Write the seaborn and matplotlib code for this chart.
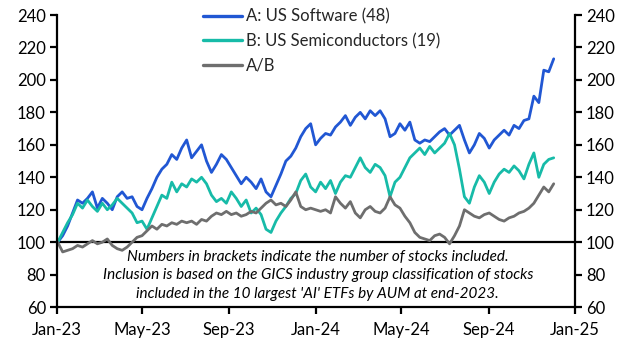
import matplotlib
matplotlib.use("Agg")
import matplotlib.pyplot as plt
import matplotlib.dates as mdates
import seaborn as sns
import pandas as pd

# weekly observations, Jan-2023 to Dec-2024
dates = pd.date_range("2023-01-02", periods=101, freq="7D")

software = [100, 104, 110, 118, 126, 124, 127, 131, 121, 127,
            124, 120, 128, 131, 127, 128, 122, 120, 127, 133,
            140, 145, 148, 154, 151, 158, 163, 152, 156, 160,
            150, 143, 148, 154, 151, 146, 141, 136, 140, 137,
            133, 139, 131, 128, 135, 142, 150, 153, 158, 165,
            170, 173, 160, 164, 167, 166, 171, 174, 178, 172,
            177, 180, 176, 181, 178, 181, 176, 165, 167, 173,
            169, 174, 163, 161, 163, 162, 165, 168, 170, 166,
            169, 172, 163, 155, 160, 167, 164, 158, 163, 166,
            169, 166, 172, 170, 175, 176, 190, 186, 206, 205,
            213]

semis = [100, 106, 112, 117, 124, 121, 126, 122, 119, 124,
         120, 123, 127, 124, 121, 118, 112, 113, 108, 115,
         122, 129, 127, 137, 131, 136, 134, 139, 137, 140,
         136, 129, 125, 127, 124, 131, 127, 122, 126, 118,
         121, 117, 108, 106, 113, 118, 122, 127, 130, 138,
         142, 134, 131, 137, 133, 138, 130, 137, 141, 140,
         146, 152, 146, 143, 148, 146, 141, 128, 137, 140,
         146, 152, 155, 158, 154, 159, 155, 158, 161, 167,
         160, 145, 128, 124, 134, 141, 137, 130, 137, 142,
         145, 143, 147, 144, 139, 148, 155, 140, 148, 151,
         152]

ratio = [100, 94, 95, 96, 98, 97, 99, 101, 99, 100,
         102, 98, 96, 95, 97, 100, 103, 104, 107, 110,
         108, 111, 110, 112, 111, 113, 112, 113, 111, 114,
         113, 116, 118, 117, 119, 117, 118, 116, 117, 119,
         118, 121, 124, 126, 123, 124, 122, 126, 131, 122,
         120, 121, 120, 119, 120, 118, 128, 124, 121, 125,
         118, 115, 120, 122, 119, 118, 121, 128, 123, 121,
         116, 112, 106, 103, 102, 101, 104, 105, 103, 99,
         104, 110, 120, 118, 116, 115, 117, 118, 116, 114,
         113, 115, 116, 118, 119, 121, 124, 129, 134, 131,
         136]

labels = ["A: US Software (48)", "B: US Semiconductors (19)", "A/B"]
colors = ["#2157D3", "#17BBA8", "#6E6E6E"]
yticks = [60, 80, 100, 120, 140, 160, 180, 200, 220, 240]
note = ("Numbers in brackets indicate the number of stocks included.\n"
        "Inclusion is based on the GICS industry group classification of stocks\n"
        "included in the 10 largest 'AI' ETFs by AUM at end-2023.")

df = pd.concat([
    pd.DataFrame({"date": dates, "value": software, "series": labels[0]}),
    pd.DataFrame({"date": dates, "value": semis, "series": labels[1]}),
    pd.DataFrame({"date": dates, "value": ratio, "series": labels[2]}),
])

sns.set_style("white")
plt.rcParams["font.family"] = ["Lato", "DejaVu Sans"]

fig = plt.figure(figsize=(6.29, 3.53), dpi=100)
ax = fig.add_axes([0.0906, 0.130, 0.8235, 0.8275])

sns.lineplot(data=df, x="date", y="value", hue="series", palette=colors,
             hue_order=labels, linewidth=2.0, ax=ax)

ax.axhline(100, color="black", lw=1.6, zorder=1)

ax.set_xlim(pd.Timestamp("2023-01-01"), pd.Timestamp("2025-01-01"))
ax.set_ylim(60, 240)
ax.set_yticks(yticks)
ax.xaxis.set_major_locator(mdates.MonthLocator(bymonth=[1, 5, 9]))
ax.xaxis.set_major_formatter(mdates.DateFormatter("%b-%y"))
ax.set_xlabel("")
ax.set_ylabel("")

for s in ["left", "right", "bottom"]:
    ax.spines[s].set_visible(True)
    ax.spines[s].set_color("black")
    ax.spines[s].set_linewidth(1.6)
ax.spines["top"].set_visible(False)

ax.tick_params(axis="both", which="major", direction="out", length=5, width=1.6,
               color="black", labelsize=12, labelcolor="black",
               left=True, right=True, bottom=True, labelright=True, pad=3)
ax.tick_params(axis="x", pad=6)

leg = ax.legend(loc="upper left", bbox_to_anchor=(0.266, 1.05), frameon=False,
                fontsize=12, handlelength=2.35, handletextpad=0.2,
                labelspacing=0.5, borderpad=0)
for line in leg.get_lines():
    line.set_linewidth(2.4)

ax.text(0.5035, 0.196, note, transform=ax.transAxes, ha="center", va="top",
        fontsize=11, style="italic", linespacing=1.4, color="black")

fig.savefig("out.png", dpi=100)
